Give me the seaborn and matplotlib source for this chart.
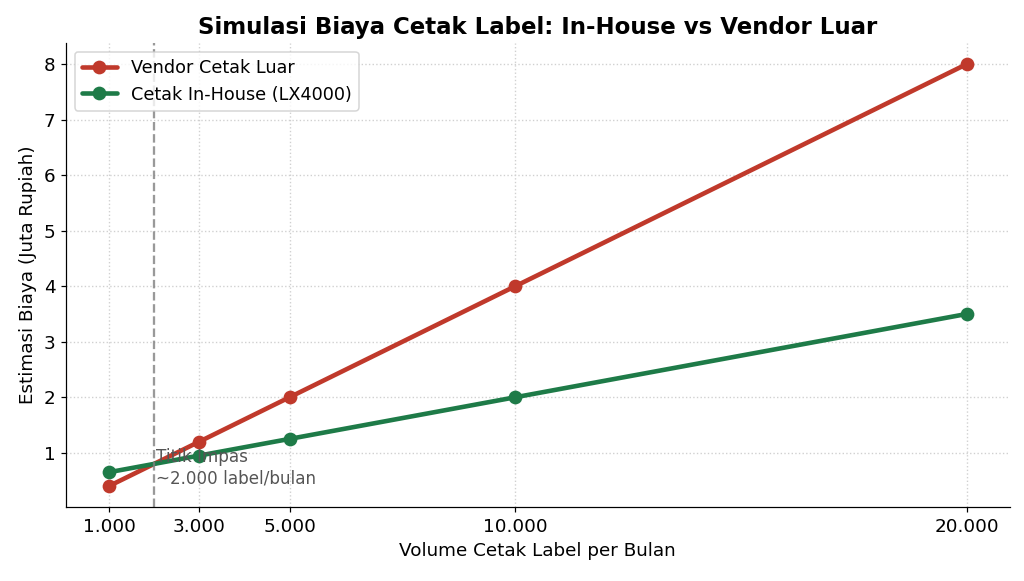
import matplotlib
matplotlib.use("Agg")
import matplotlib.pyplot as plt
import seaborn as sns
import pandas as pd

# Data
volume = [1000, 3000, 5000, 10000, 20000]
biaya_vendor = [0.4, 1.2, 2.0, 4.0, 8.0]
biaya_inhouse = [0.65, 0.95, 1.25, 2.0, 3.5]
tick_labels = ["1.000", "3.000", "5.000", "10.000", "20.000"]
titik_impas = 2000

df = pd.DataFrame({
    "Volume": volume * 2,
    "Biaya": biaya_vendor + biaya_inhouse,
    "Metode": ["Vendor Cetak Luar"] * 5 + ["Cetak In-House (LX4000)"] * 5,
})

sns.set_style("ticks", {"text.color": "black", "axes.labelcolor": "black",
                        "xtick.color": "black", "ytick.color": "black",
                        "axes.edgecolor": "black"})
plt.rcParams["font.family"] = ["DejaVu Sans"]

fig, ax = plt.subplots(figsize=(1024 / 110, 581 / 110), dpi=110)
sns.lineplot(data=df, x="Volume", y="Biaya", hue="Metode", marker="o",
             palette=["#c0392b", "#1e7b48"], linewidth=3, markersize=9,
             markeredgewidth=0, ax=ax)

ax.axvline(titik_impas, color="gray", linestyle="--", alpha=0.8, linewidth=1.5)
ax.text(titik_impas + 50, 0.38, "Titik Impas\n~2.000 label/bulan",
        color="#555555", fontsize=11, va="bottom", ha="left")

ax.set_xticks(volume)
ax.set_xticklabels(tick_labels, fontsize=12)
ax.tick_params(axis="y", labelsize=12)
ax.grid(True, linestyle=":", color="#d0d0d0", linewidth=0.9)
sns.despine(ax=ax)

ax.set_title("Simulasi Biaya Cetak Label: In-House vs Vendor Luar",
             fontsize=15, fontweight="bold")
ax.set_xlabel("Volume Cetak Label per Bulan", fontsize=12)
ax.set_ylabel("Estimasi Biaya (Juta Rupiah)", fontsize=12)
ax.legend(loc="upper left", fontsize=11.5, title=None)

plt.subplots_adjust(left=0.0645, right=0.986, top=0.926, bottom=0.127)
plt.savefig("out.png", dpi=110)
